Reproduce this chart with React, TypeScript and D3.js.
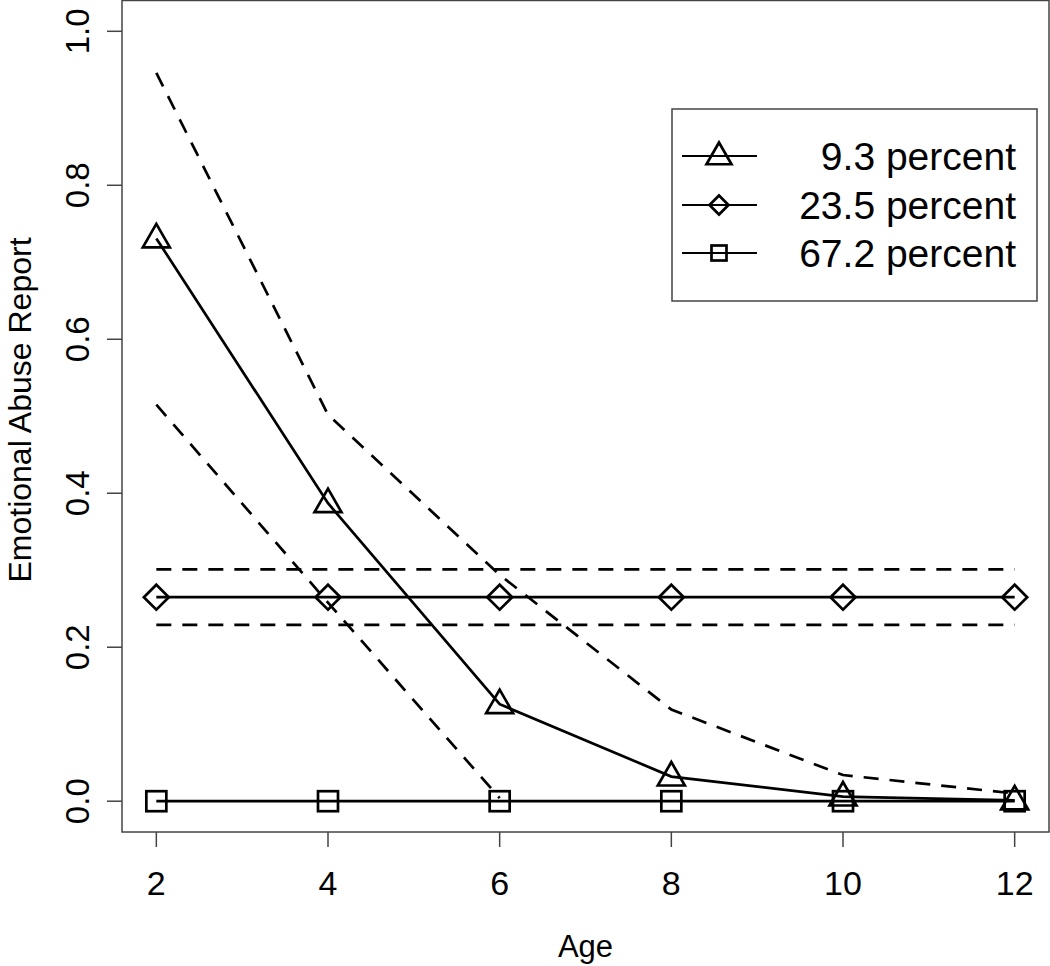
import React from "react";
import * as d3 from "d3";

const ages = [2, 4, 6, 8, 10, 12];
const xTicks = [2, 4, 6, 8, 10, 12];
const yTicks = [0.0, 0.2, 0.4, 0.6, 0.8, 1.0];

const lowMean = [0.731, 0.387, 0.126, 0.032, 0.006, 0.001];
const lowUpper = [0.946, 0.502, 0.294, 0.119, 0.034, 0.01];
const lowLower = [0.515, 0.258, 0.004, 0.0, 0.0, 0.0];

const midMean = [0.265, 0.265, 0.265, 0.265, 0.265, 0.265];
const midUpper = [0.301, 0.301, 0.301, 0.301, 0.301, 0.301];
const midLower = [0.229, 0.229, 0.229, 0.229, 0.229, 0.229];

const highMean = [0, 0, 0, 0, 0, 0];

const legendLabels = ["9.3 percent", "23.5 percent", "67.2 percent"];
const legendShapes = ["triangle", "diamond", "square"];

const FONT = "'Liberation Sans', Arial, Helvetica, sans-serif";

function Marker({ shape, x, y, s }: { shape: string; x: number; y: number; s: number }) {
  const common = { stroke: "black", strokeWidth: 2.7 };
  if (shape === "triangle") {
    const h = s * 0.87;
    const pts = `${x},${y - h * 0.62} ${x - s / 2},${y + h * 0.38} ${x + s / 2},${y + h * 0.38}`;
    return <polygon points={pts} {...common} fill="none" />;
  }
  if (shape === "diamond") {
    const r = s / 2;
    const pts = `${x},${y - r} ${x + r},${y} ${x},${y + r} ${x - r},${y}`;
    return <polygon points={pts} {...common} fill="none" />;
  }
  return <rect x={x - s / 2} y={y - s / 2} width={s} height={s} {...common} fill="none" />;
}

export default function App() {
  const W = 1050;
  const H = 966;
  const left = 122, right = 1049, top = 0.5, bottom = 832;
  const x = d3.scaleLinear().domain([1.6, 12.4]).range([left, right]);
  const y = d3.scaleLinear().domain([-0.04, 1.04]).range([bottom, top]);

  const line = d3
    .line<number>()
    .x((_, i) => x(ages[i]))
    .y((d) => y(d));

  const solid = { fill: "none", stroke: "black", strokeWidth: 2.7 };
  const dashed = { fill: "none", stroke: "black", strokeWidth: 2.7, strokeDasharray: "15 11" };

  const legX = 672, legY = 109, legW = 365, legH = 192;
  const rowYs = [156, 205, 253];
  const legendSizes = [25, 19, 15];

  return (
    <svg
      width={W}
      height={H}
      style={{ position: "absolute", left: 0, top: 0, background: "white" }}
      fontFamily={FONT}
    >
      <rect x={0} y={0} width={W} height={H} fill="white" />
      {/* CI dashed lines */}
      <path d={line(lowUpper) || ""} {...dashed} />
      <path d={line(lowLower.slice(0, 3)) || ""} {...dashed} />
      <path d={line(midUpper) || ""} {...dashed} />
      <path d={line(midLower) || ""} {...dashed} />
      {/* mean lines */}
      <path d={line(lowMean) || ""} {...solid} />
      <path d={line(midMean) || ""} {...solid} />
      <path d={line(highMean) || ""} {...solid} />
      {lowMean.map((v, i) => (
        <Marker key={"t" + i} shape="triangle" x={x(ages[i])} y={y(v)} s={27} />
      ))}
      {midMean.map((v, i) => (
        <Marker key={"d" + i} shape="diamond" x={x(ages[i])} y={y(v)} s={25} />
      ))}
      {highMean.map((v, i) => (
        <Marker key={"s" + i} shape="square" x={x(ages[i])} y={y(v)} s={20} />
      ))}

      {/* box */}
      <rect x={left} y={top} width={right - left} height={bottom - top} fill="none" stroke="#444" strokeWidth={1.5} />

      {/* x axis */}
      {xTicks.map((t) => (
        <g key={"xt" + t}>
          <line x1={x(t)} x2={x(t)} y1={bottom} y2={bottom + 15} stroke="#444" strokeWidth={1.5} />
          <text x={x(t)} y={895} textAnchor="middle" fontSize={34}>
            {t}
          </text>
        </g>
      ))}
      {/* y axis */}
      {yTicks.map((t) => (
        <g key={"yt" + t}>
          <line x1={left - 15} x2={left} y1={y(t)} y2={y(t)} stroke="#444" strokeWidth={1.5} />
          <text
            transform={`translate(89,${y(t)}) rotate(-90)`}
            textAnchor="middle"
            fontSize={33}
          >
            {t.toFixed(1)}
          </text>
        </g>
      ))}

      <text x={x(7)} y={957} textAnchor="middle" fontSize={31}>
        Age
      </text>
      <text transform={`translate(31,410) rotate(-90)`} textAnchor="middle" fontSize={32}>
        Emotional Abuse Report
      </text>

      {/* legend */}
      <rect x={legX} y={legY} width={legW} height={legH} fill="white" stroke="#444" strokeWidth={1.5} />
      {legendLabels.map((lab, i) => (
        <g key={"lg" + i}>
          <line x1={682} x2={757} y1={rowYs[i]} y2={rowYs[i]} stroke="black" strokeWidth={2.2} />
          <Marker shape={legendShapes[i]} x={719} y={rowYs[i]} s={legendSizes[i]} />
          <text x={1016} y={rowYs[i] + 14} textAnchor="end" fontSize={39}>
            {lab}
          </text>
        </g>
      ))}
    </svg>
  );
}
